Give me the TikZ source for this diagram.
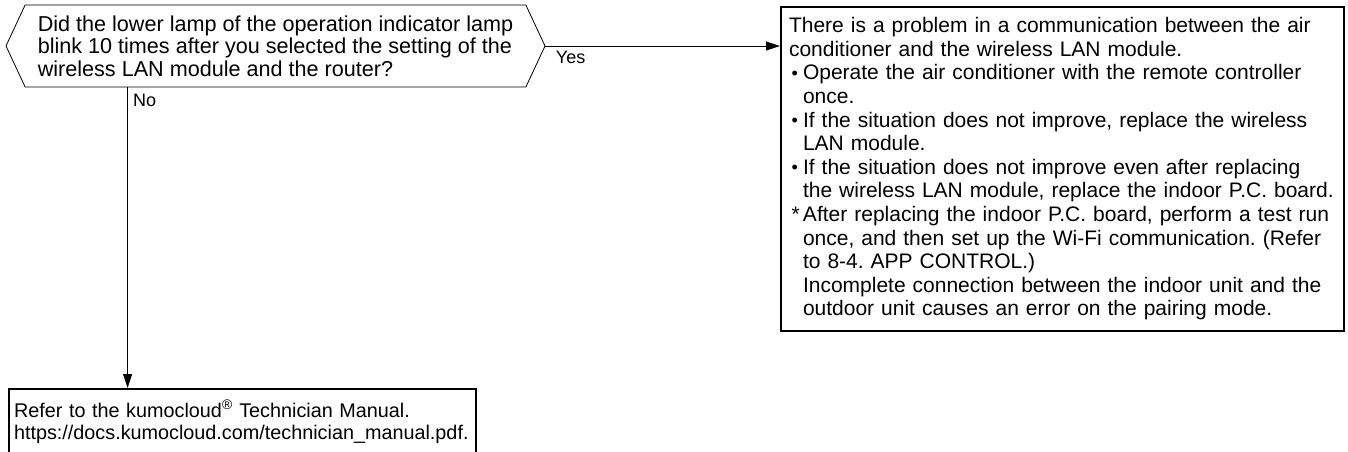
\documentclass[tikz,border=0pt]{standalone}
\usepackage{fontspec}
\setmainfont{Liberation Sans}
\usetikzlibrary{positioning,shapes.symbols,arrows.meta,calc}
\newcommand{\itembul}{\makebox[14pt][l]{\hspace{2.5pt}\raisebox{0.8pt}{\fontsize{18}{18}\selectfont •}}}
\newcommand{\itemstar}{\makebox[14pt][l]{\hspace{2.5pt}*}}
\newcommand{\itemcont}{\hspace*{14pt}}
\tikzset{
  question/.style={signal,signal to=east and west,signal pointer angle=130,draw=black,line width=0.8pt,
    minimum width=539pt,minimum height=82pt,align=left,font=\fontsize{21.6}{22.5}\selectfont\frenchspacing},
  answer/.style={draw=black,line width=2pt,align=left,inner xsep=8pt,inner ysep=10.5pt,
    font=\fontsize{21}{23.6}\selectfont\frenchspacing},
  flow/.style={-{Triangle[length=14pt,width=9pt]},line width=0.9pt,draw=black},
  branch/.style={font=\fontsize{18}{18}\selectfont,inner sep=0pt}
}
\begin{document}
\begin{tikzpicture}[x=1pt,y=1pt]
\useasboundingbox (0,0) rectangle (1348,451);

\node[question] (lamp) at (275.5,405) {
  Did the lower lamp of the operation indicator lamp\\
  blink 10 times after you selected the setting of the\\
  wireless LAN module and the router?
};

\node[answer,text width=547pt,anchor=north west] (commfail) at (780,445) {
  There is a problem in a communication between the air\\
  conditioner and the wireless LAN module.\\
  \itembul Operate the air conditioner with the remote controller\\
  \itemcont once.\\
  \itembul If the situation does not improve, replace the wireless\\
  \itemcont LAN module.\\
  \itembul If the situation does not improve even after replacing\\
  \itemcont the wireless LAN module, replace the indoor P.C. board.\\
  \itemstar After replacing the indoor P.C. board, perform a test run\\
  \itemcont once, and then set up the Wi-Fi communication. (Refer\\
  \itemcont to 8-4. APP CONTROL.)\\
  \itemcont Incomplete connection between the indoor unit and the\\
  \itemcont outdoor unit causes an error on the pairing mode.
};

\node[answer,text width=457pt,inner xsep=5pt,inner ysep=11pt,anchor=north west,
  font=\fontsize{19.8}{22.5}\selectfont\frenchspacing] (manual) at (8,63) {
  Refer to the kumocloud\textsuperscript{®} Technician Manual.\\
  https://docs.kumocloud.com/technician\_manual.pdf.
};

\coordinate (noin) at ($(manual.north west)!0.255!(manual.north east)$);

\draw[flow] (lamp.east) -- node[branch,pos=0,below right=5pt and 10pt]{Yes} (lamp.east -| commfail.west);
\draw[flow] (lamp.south -| noin) -- node[branch,pos=0,below right=6pt and 5pt]{No} (noin);
\end{tikzpicture}
\end{document}
